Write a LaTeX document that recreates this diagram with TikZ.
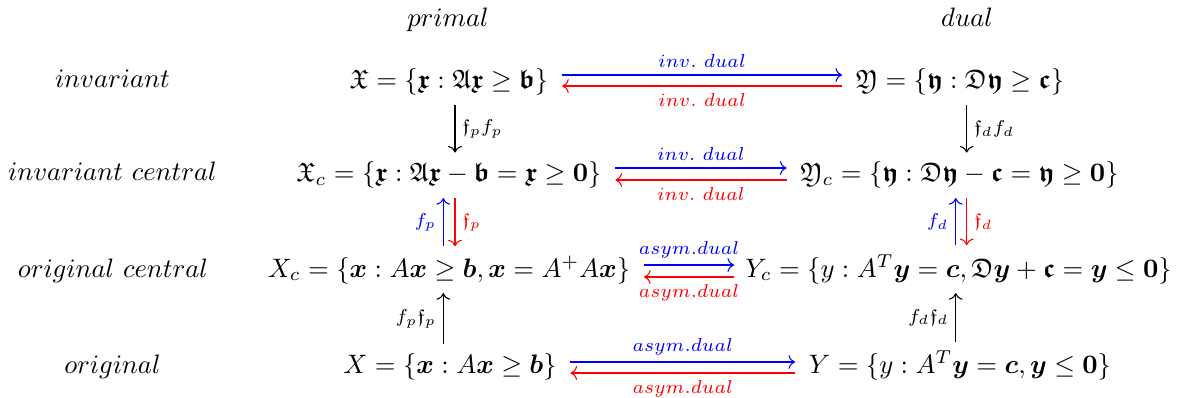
\documentclass[tikz,border=0pt]{standalone}
\usepackage{amsmath,amssymb}
\usetikzlibrary{arrows.meta}
\newcommand{\bfr}[1]{\boldsymbol{\mathfrak{#1}}}
\newcommand{\bv}[1]{\boldsymbol{#1}}
\begin{document}
\begin{tikzpicture}[x=0.375pt,y=-0.375pt,
  every node/.style={inner ysep=3.33pt},
  setnode/.style={anchor=base,inner xsep=5pt},
  rowlab/.style={anchor=base},
  arr/.style={-{Computer Modern Rightarrow},line width=0.4pt},
  bl/.style={arr,blue},
  rd/.style={arr,red},
  lab/.style={inner sep=2.5pt,font=\scriptsize}]
\useasboundingbox (0,0) rectangle (1182,398);
% column titles
\node[rowlab] (tp) at (448,26.5) {$primal$};
\node[rowlab] (td) at (967,26.5) {$dual$};
% row titles
\node[rowlab] (r1) at (112.5,88) {$invariant$};
\node[rowlab] (r2) at (112.5,181) {$invariant\ central$};
\node[rowlab] (r3) at (113,277) {$original\ central$};
\node[rowlab] (r4) at (112.5,373) {$original$};
% sets
\node[setnode] (p1) at (449,88.5) {$\mathfrak{X} = \{\bfr{x} : \mathfrak{A}\bfr{x} \geq \bfr{b}\}$};
\node[setnode] (d1) at (960,88.5) {$\mathfrak{Y} = \{\bfr{y} : \mathfrak{D}\bfr{y} \geq \bfr{c}\}$};
\node[setnode] (p2) at (449,182) {$\mathfrak{X}_c = \{\bfr{x} : \mathfrak{A}\bfr{x} - \bfr{b} = \bfr{x} \geq \bv{0}\}$};
\node[setnode] (d2) at (959.5,182) {$\mathfrak{Y}_c = \{\bfr{y} : \mathfrak{D}\bfr{y} - \bfr{c} = \bfr{y} \geq \bv{0}\}$};
\node[setnode] (p3) at (449,277) {$X_c = \{\bv{x} : A\bv{x} \geq \bv{b}, \bv{x} = A^{+}A\bv{x}\}$};
\node[setnode,inner xsep=4pt] (d3) at (958.5,277) {$Y_c = \{y : A^T\bv{y} = \bv{c}, \mathfrak{D}\bv{y} + \bfr{c} = \bv{y} \leq \bv{0}\}$};
\node[setnode] (p4) at (450,373.5) {$X = \{\bv{x} : A\bv{x} \geq \bv{b}\}$};
\node[setnode] (d4) at (960,373.5) {$Y = \{y : A^T\bv{y} = \bv{c}, \bv{y} \leq \bv{0}\}$};
% horizontal arrows
\draw[bl] (p1.east |- 0,75) -- node[lab,above] {$inv.\ dual$} (d1.west |- 0,75);
\draw[rd] (d1.west |- 0,86) -- node[lab,below] {$inv.\ dual$} (p1.east |- 0,86);
\draw[bl] (p2.east |- 0,168) -- node[lab,above] {$inv.\ dual$} (d2.west |- 0,168);
\draw[rd] (d2.west |- 0,180) -- node[lab,below] {$inv.\ dual$} (p2.east |- 0,180);
\draw[bl] (p3.east |- 0,265) -- node[lab,above] {$asym.dual$} (d3.west |- 0,265);
\draw[rd] (d3.west |- 0,277) -- node[lab,below] {$asym.dual$} (p3.east |- 0,277);
\draw[bl] (p4.east |- 0,362) -- node[lab,above] {$asym.dual$} (d4.west |- 0,362);
\draw[rd] (d4.west |- 0,373) -- node[lab,below] {$asym.dual$} (p4.east |- 0,373);
% vertical arrows, primal
\draw[arr] (p1.south -| 455,0) -- node[lab,right] {$\mathfrak{f}_p f_p$} (p2.north -| 455,0);
\draw[bl] (p3.north -| 443.3,0) -- node[lab,left] {$f_p$} (p2.south -| 443.3,0);
\draw[rd] (p2.south -| 455,0) -- node[lab,right] {$\mathfrak{f}_p$} (p3.north -| 455,0);
\draw[arr] (p4.north -| 443.3,0) -- node[lab,left] {$f_p\mathfrak{f}_p$} (p3.south -| 443.3,0);
% vertical arrows, dual
\draw[arr] (d1.south -| 966.7,0) -- node[lab,right] {$\mathfrak{f}_d f_d$} (d2.north -| 966.7,0);
\draw[bl] (d3.north -| 955.7,0) -- node[lab,left] {$f_d$} (d2.south -| 955.7,0);
\draw[rd] (d2.south -| 966.7,0) -- node[lab,right] {$\mathfrak{f}_d$} (d3.north -| 966.7,0);
\draw[arr] (d4.north -| 955.7,0) -- node[lab,left] {$f_d\mathfrak{f}_d$} (d3.south -| 955.7,0);
\end{tikzpicture}
\end{document}
